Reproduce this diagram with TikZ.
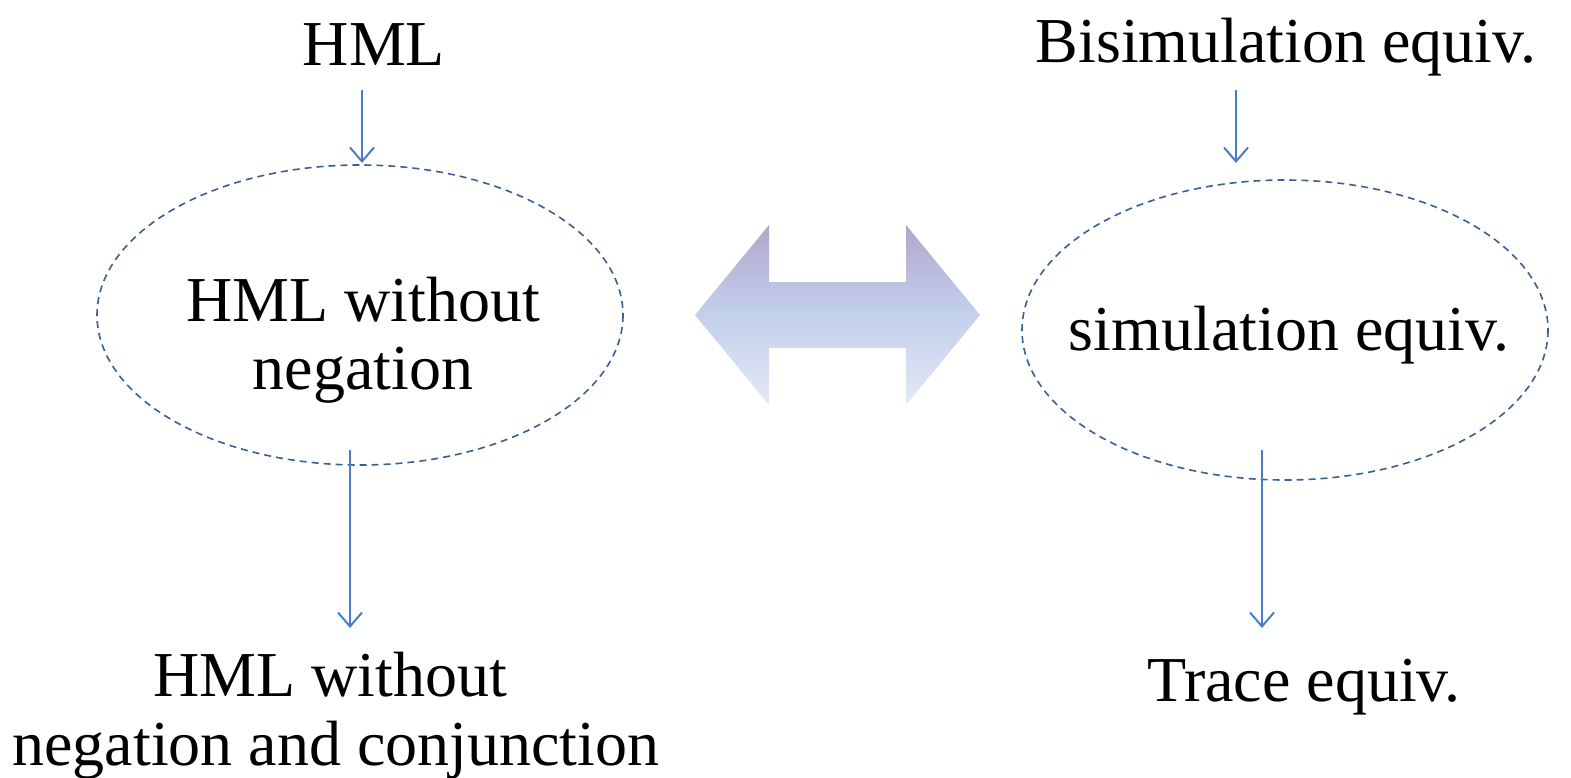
\documentclass[tikz,border=0pt]{standalone}
\usepackage{fontspec}
\setmainfont{Liberation Serif}
\usetikzlibrary{arrows.meta}
\definecolor{arrowblue}{HTML}{4A7EC4}
\definecolor{dashblue}{HTML}{3A5F95}
\definecolor{shadetop}{HTML}{B2A6CC}
\definecolor{shademid}{HTML}{C3D0EC}
\definecolor{shadebot}{HTML}{E3E9F6}
% purple at the top, blue in the middle, pale blue at the bottom
\pgfdeclareverticalshading{dblarrow}{100bp}{%
  color(0bp)=(shadebot); color(25bp)=(shadebot); color(50bp)=(shademid);
  color(75bp)=(shadetop); color(100bp)=(shadetop)}
\tikzset{
  lbl/.style={font=\fontsize{64}{64}\selectfont, anchor=base, inner sep=0pt},
  oval/.style={draw=dashblue, line width=1.6pt, dash pattern=on 7pt off 5pt},
  flow/.style={draw=arrowblue, line width=2pt, -{Straight Barb[length=14pt,width=24pt,line width=2pt]}}
}
\begin{document}
\begin{tikzpicture}[x=1pt,y=-1pt]
\useasboundingbox (0,0) rectangle (1571,777);
% left column
\node[lbl] (hml) at (374,65) {HML};
\draw[oval] (360,315) ellipse [x radius=263, y radius=150];
\node[lbl] (noneg1) at (363,321) {HML without};
\node[lbl] (noneg2) at (363,389) {negation};
\coordinate (hmlout) at (362,90);
\coordinate (hmlin) at (362,163);
\draw[flow] (hmlout) -- (hmlin);
\coordinate (lout) at (350,450);
\coordinate (lin) at (350,628);
\draw[flow] (lout) -- (lin);
\node[lbl] (noconj1) at (330,696) {HML without};
\node[lbl] (noconj2) at (336,765) {negation and conjunction};
% right column
\node[lbl] (bisim) at (1286,62) {Bisimulation equiv.};
\draw[oval] (1285,330) ellipse [x radius=263, y radius=150];
\node[lbl] (sim) at (1289,350) {simulation equiv.};
\coordinate (bout) at (1236,90);
\coordinate (bin) at (1236,163);
\draw[flow] (bout) -- (bin);
\coordinate (rout) at (1262,450);
\coordinate (rin) at (1262,628);
\draw[flow] (rout) -- (rin);
\node[lbl] (trace) at (1304,701) {Trace equiv.};
% double-headed arrow between the two sides
\shade[shading=dblarrow]
  (695,315) -- (769,225) -- (769,282) -- (906,282) -- (906,225) -- (980,315)
  -- (906,405) -- (906,348) -- (769,348) -- (769,405) -- cycle;
\end{tikzpicture}
\end{document}
